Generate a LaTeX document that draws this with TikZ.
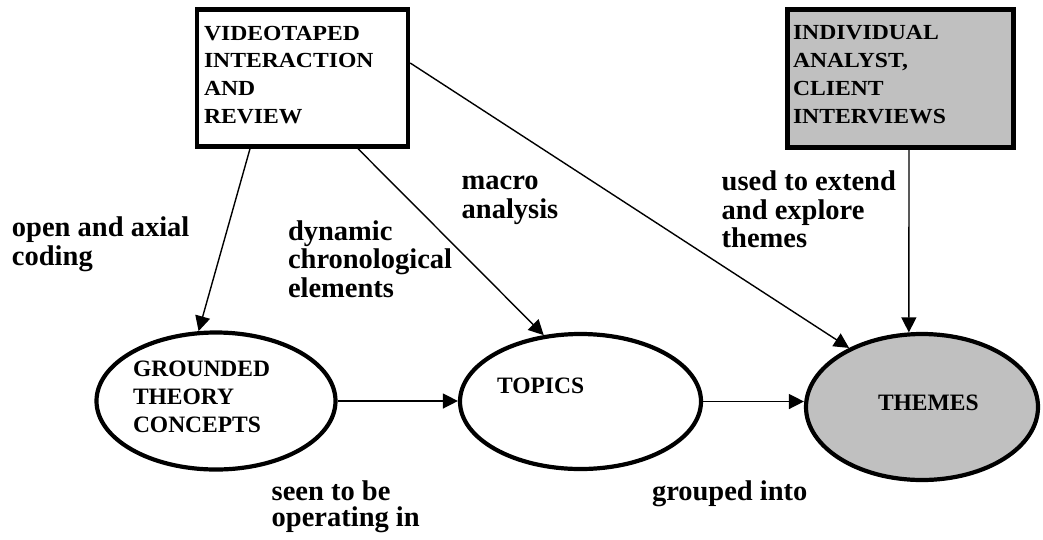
\documentclass[tikz,border=0pt]{standalone}
\usepackage{fontspec}
\setmainfont{Liberation Serif}
\newfontfamily\boxfont{Liberation Serif}[FakeStretch=1.1]
\usetikzlibrary{arrows.meta,shapes.geometric}
\definecolor{silverfill}{RGB}{192,192,192}
\tikzset{
  srcbox/.style={draw, line width=4.4pt, rectangle, inner sep=0pt},
  oval/.style={draw, line width=4.2pt, ellipse, inner sep=0pt},
  boxtxt/.style={anchor=base west, inner sep=0pt, outer sep=0pt, align=left,
    font=\boxfont\bfseries\fontsize{21.5}{27.7}\selectfont},
  ovaltxt/.style={anchor=base west, inner sep=0pt, outer sep=0pt, align=left,
    font=\bfseries\fontsize{23.5}{28.3}\selectfont},
  lbl/.style={anchor=base west, inner sep=0pt, outer sep=0pt, align=left,
    font=\bfseries\fontsize{28.5}{28.3}\selectfont},
  conn/.style={line width=1.4pt, -{Triangle[length=15pt,width=15pt]}}
}
\begin{document}
\begin{tikzpicture}[x=1pt,y=-1pt]
\useasboundingbox (0,0) rectangle (1043,539);
% source boxes
\node[srcbox, minimum width=211pt, minimum height=137pt] (video) at (302.5,78) {};
\node[srcbox, fill=silverfill, minimum width=226pt, minimum height=138pt] (interv) at (900.5,78.5) {};
\node[boxtxt] (videoT) at (204,123.3) {VIDEOTAPED\\INTERACTION\\AND\\REVIEW};
\node[boxtxt] (intervT) at (793,123) {INDIVIDUAL\\ANALYST,\\CLIENT\\INTERVIEWS};
% ovals
\node[oval, minimum width=239pt, minimum height=137pt] (gtc) at (216,401) {};
\node[oval, minimum width=241pt, minimum height=135pt] (topics) at (580.5,401.5) {};
\node[oval, fill=silverfill, minimum width=232pt, minimum height=146pt] (themes) at (922,407) {};
\node[ovaltxt] (gtcT) at (133,432.7) {GROUNDED\\THEORY\\CONCEPTS};
\node[ovaltxt] (topicsT) at (497,393) {TOPICS};
\node[ovaltxt] (themesT) at (878,410) {THEMES};
% connectors
\draw[conn] ([xshift=-52.5pt]video.south) -- (gtc.104);
\draw[conn] ([xshift=55.5pt]video.south) -- (topics.119);
\draw[conn] ([yshift=15pt]video.east) -- (themes.141);
\draw[conn] ([xshift=8.5pt]interv.south) -- (themes.100);
\draw[conn] (gtc.east) -- (gtc.east -| topics.west);
\draw[conn] (topics.east) -- (topics.east -| themes.west);
% labels
\node[lbl] (l1) at (12,265) {open and axial\\coding};
\node[lbl] (l2) at (288,297) {dynamic\\chronological\\elements};
\node[lbl] (l3) at (461.7,218) {macro\\analysis};
\node[lbl] (l4) at (721.7,247.3) {used to extend\\and explore\\themes};
\node[lbl, font=\bfseries\fontsize{28.5}{26}\selectfont] (l5) at (271.7,526.7) {seen to be\\operating in};
\node[lbl] (l6) at (652,500) {grouped into};
\end{tikzpicture}
\end{document}
